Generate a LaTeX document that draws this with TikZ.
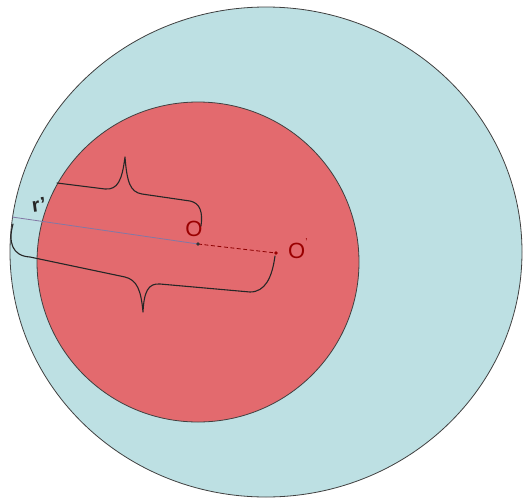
\documentclass[tikz,border=0pt]{standalone}
\usepackage{fontspec}
\setmainfont{Liberation Sans}
\begin{document}
\begin{tikzpicture}[x=1pt,y=-1pt,
  outline/.style={draw=black!75, line width=0.8pt},
  bracepath/.style={draw=black!85, line width=1.1pt, line cap=round, line join=round},
  lbl/.style={text=red!60!black, font=\fontsize{22}{22}\selectfont, inner sep=0pt},
  ]
\definecolor{outerfill}{RGB}{189,224,227}
\definecolor{innerfill}{RGB}{227,106,110}
\useasboundingbox (0,0) rectangle (525,501);
% circles
\path[outline, fill=outerfill] (266,252) ellipse [x radius=256, y radius=245];
\path[outline, fill=innerfill] (198,262) ellipse [x radius=161, y radius=160];
% points
\coordinate (A) at (12,217);
\coordinate (O) at (198,244);
\coordinate (Op) at (276,253);
\draw[color={rgb,255:red,130;green,120;blue,165}, line width=0.8pt] (A) -- (O);
\draw[red!55!black, dashed, line width=0.8pt, dash pattern=on 4pt off 2.5pt] (O) -- (Op);
\fill[black!80] (O) circle (1.8);
\fill[red!60!black] (Op) circle (1.8);
% labels
\node[lbl] (Olbl) at (194,229) {O};
\node[lbl, anchor=west] (Oplbl) at (288,249) {O\raisebox{1.1ex}{\fontsize{10}{10}\selectfont\textquoteright}};
\node[font=\fontsize{20}{20}\selectfont\bfseries, text=black!85, rotate=8, inner sep=0pt] (rlbl) at (39,205) {r\textquoteright};
% upper brace
\path[bracepath] (57,183) -- (105,189) .. controls (118,190) and (122,180) .. (125,157)
  .. controls (127,182) and (130,192) .. (142,194) -- (190,201)
  .. controls (200,203) and (203,212) .. (201,226);
% lower brace
\path[bracepath] (13,224) .. controls (8,242) and (12,256) .. (30,257) -- (125,277)
  .. controls (137,280) and (141,290) .. (143,312)
  .. controls (144,292) and (148,283) .. (160,284) -- (250,292)
  .. controls (265,292) and (272,278) .. (275,256);
\end{tikzpicture}
\end{document}
